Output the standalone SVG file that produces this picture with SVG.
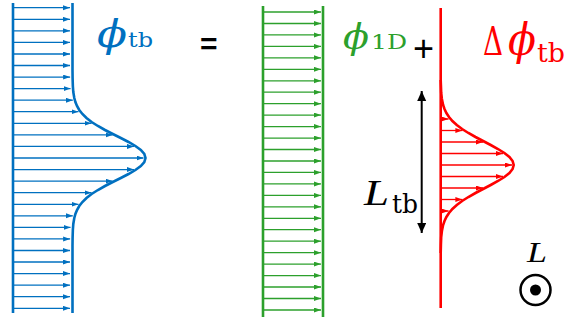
<svg xmlns="http://www.w3.org/2000/svg" width="569" height="320" viewBox="0 0 569 320">
<style>
.bl{stroke:#0070C0;fill:none}
.gr{stroke:#2CA02C;fill:none}
.rd{stroke:#FF0000;fill:none}
.wall{stroke-width:2.6}
.ar{stroke-width:1.3}
.phi{font-family:"DejaVu Serif",serif;font-style:italic}
.it{font-family:"Liberation Serif",serif;font-style:italic}
.up{font-family:"DejaVu Serif",serif}
.sans{font-family:"Liberation Sans",sans-serif}
</style>
<defs>
<marker id="mb" markerUnits="userSpaceOnUse" markerWidth="8" markerHeight="6" refX="7" refY="2.5" orient="auto"><path d="M0,0 L7,2.5 L0,5 z" fill="#0070C0"/></marker>
<marker id="mg" markerUnits="userSpaceOnUse" markerWidth="8" markerHeight="6" refX="7" refY="2.5" orient="auto"><path d="M0,0 L7,2.5 L0,5 z" fill="#2CA02C"/></marker>
<marker id="mr" markerUnits="userSpaceOnUse" markerWidth="8" markerHeight="6" refX="7" refY="2.5" orient="auto"><path d="M0,0 L7,2.5 L0,5 z" fill="#FF0000"/></marker>
<marker id="mk" markerUnits="userSpaceOnUse" markerWidth="12" markerHeight="10" refX="10" refY="4.5" orient="auto-start-reverse"><path d="M0,0 L10,4.5 L0,9 z" fill="#000"/></marker>
</defs>

<g id="blue-profile">
<line class="bl wall" x1="13" y1="3" x2="13" y2="313"/>
<path class="bl wall" d="M72.5,3 L72.5,70 L72.6,78 L72.85,86 L73.3,92 L74.3,98 L75.4,102 L77,106 L79.25,110 L82.4,114 L86.5,118 L91.6,122 L97.9,126 L105,130 L112.8,134 L120.8,138 L128.5,142 L135.4,146 L140.8,150 L144.3,154 L145.5,158 L144.3,162 L140.8,166 L135.4,170 L128.5,174 L120.8,178 L112.8,182 L105,186 L97.9,190 L91.6,194 L86.5,198 L82.4,202 L79.25,206 L77,210 L75.4,214 L74.3,218 L73.3,224 L72.85,230 L72.6,238 L72.5,246 L72.5,313"/>
<g class="bl ar" marker-end="url(#mb)">
<line x1="14" y1="7.7" x2="70" y2="7.7"/>
<line x1="14" y1="19.3" x2="70" y2="19.3"/>
<line x1="14" y1="30.8" x2="70" y2="30.8"/>
<line x1="14" y1="42.4" x2="70" y2="42.4"/>
<line x1="14" y1="54" x2="70" y2="54"/>
<line x1="14" y1="65.5" x2="70" y2="65.5"/>
<line x1="14" y1="77.1" x2="70.1" y2="77.1"/>
<line x1="14" y1="88.6" x2="70.5" y2="88.6"/>
<line x1="14" y1="100.2" x2="72.8" y2="100.2"/>
<line x1="14" y1="111.7" x2="78.5" y2="111.7"/>
<line x1="14" y1="123.3" x2="91.5" y2="123.3"/>
<line x1="14" y1="134.9" x2="112.5" y2="134.9"/>
<line x1="14" y1="146.4" x2="134" y2="146.4"/>
<line x1="14" y1="158" x2="143.5" y2="158"/>
<line x1="14" y1="169.6" x2="134" y2="169.6"/>
<line x1="14" y1="181.1" x2="112.5" y2="181.1"/>
<line x1="14" y1="192.7" x2="91.5" y2="192.7"/>
<line x1="14" y1="204.3" x2="78.5" y2="204.3"/>
<line x1="14" y1="215.8" x2="72.8" y2="215.8"/>
<line x1="14" y1="227.4" x2="70.5" y2="227.4"/>
<line x1="14" y1="238.9" x2="70.1" y2="238.9"/>
<line x1="14" y1="250.5" x2="70" y2="250.5"/>
<line x1="14" y1="262" x2="70" y2="262"/>
<line x1="14" y1="273.6" x2="70" y2="273.6"/>
<line x1="14" y1="285.2" x2="70" y2="285.2"/>
<line x1="14" y1="296.7" x2="70" y2="296.7"/>
<line x1="14" y1="308.3" x2="70" y2="308.3"/>
</g>
<text class="phi" x="97" y="47" font-size="38" fill="#0070C0" textLength="30" lengthAdjust="spacingAndGlyphs">ϕ</text>
<text class="up" x="128" y="47" font-size="20" fill="#0070C0" textLength="25" lengthAdjust="spacingAndGlyphs">tb</text>
</g>

<g id="equals">
<text class="sans" x="200" y="54" font-size="30" font-weight="bold" fill="#000">=</text>
</g>

<g id="green-profile">
<line class="gr wall" x1="263" y1="6" x2="263" y2="317"/>
<line class="gr wall" x1="323" y1="6" x2="323" y2="317"/>
<g class="gr ar" marker-end="url(#mg)">
<line x1="264" y1="12" x2="321" y2="12"/>
<line x1="264" y1="23.5" x2="321" y2="23.5"/>
<line x1="264" y1="34.9" x2="321" y2="34.9"/>
<line x1="264" y1="46.4" x2="321" y2="46.4"/>
<line x1="264" y1="57.8" x2="321" y2="57.8"/>
<line x1="264" y1="69.3" x2="321" y2="69.3"/>
<line x1="264" y1="80.8" x2="321" y2="80.8"/>
<line x1="264" y1="92.2" x2="321" y2="92.2"/>
<line x1="264" y1="103.7" x2="321" y2="103.7"/>
<line x1="264" y1="115.1" x2="321" y2="115.1"/>
<line x1="264" y1="126.6" x2="321" y2="126.6"/>
<line x1="264" y1="138.1" x2="321" y2="138.1"/>
<line x1="264" y1="149.5" x2="321" y2="149.5"/>
<line x1="264" y1="161" x2="321" y2="161"/>
<line x1="264" y1="172.4" x2="321" y2="172.4"/>
<line x1="264" y1="183.9" x2="321" y2="183.9"/>
<line x1="264" y1="195.4" x2="321" y2="195.4"/>
<line x1="264" y1="206.8" x2="321" y2="206.8"/>
<line x1="264" y1="218.3" x2="321" y2="218.3"/>
<line x1="264" y1="229.7" x2="321" y2="229.7"/>
<line x1="264" y1="241.2" x2="321" y2="241.2"/>
<line x1="264" y1="252.7" x2="321" y2="252.7"/>
<line x1="264" y1="264.1" x2="321" y2="264.1"/>
<line x1="264" y1="275.6" x2="321" y2="275.6"/>
<line x1="264" y1="287" x2="321" y2="287"/>
<line x1="264" y1="298.5" x2="321" y2="298.5"/>
<line x1="264" y1="310" x2="321" y2="310"/>
</g>
<text class="phi" x="343" y="49" font-size="36" fill="#2CA02C" textLength="26" lengthAdjust="spacingAndGlyphs">ϕ</text>
<text class="up" x="371" y="49" font-size="20" fill="#2CA02C" textLength="36" lengthAdjust="spacingAndGlyphs">1D</text>
</g>

<g id="plus">
<text class="sans" x="413" y="61" font-size="36" fill="#000">+</text>
</g>

<g id="red-profile">
<line class="rd wall" x1="440.7" y1="8" x2="440.7" y2="308"/>
<path class="rd wall" d="M440.7,80 L440.9,85 L441.2,93 L441.9,99 L443.1,105 L444.5,109 L446.4,113 L449,117 L452.4,121 L456.8,125 L462.1,129 L468.4,133 L475.5,137 L483.1,141 L490.7,145 L498,149 L504.4,153 L509.4,157 L512.6,161 L513.7,165 L512.6,169 L509.4,173 L504.4,177 L498,181 L490.7,185 L483.1,189 L475.5,193 L468.4,197 L462.1,201 L456.8,205 L452.4,209 L449,213 L446.4,217 L444.5,221 L443.1,225 L441.9,231 L441.2,237 L440.9,245 L440.7,253"/>
<g class="rd ar" marker-end="url(#mr)">
<line x1="442" y1="119" x2="448.6" y2="119"/>
<line x1="442" y1="130.5" x2="462.4" y2="130.5"/>
<line x1="442" y1="142" x2="483" y2="142"/>
<line x1="442" y1="153.5" x2="503" y2="153.5"/>
<line x1="442" y1="165" x2="512" y2="165"/>
<line x1="442" y1="176.5" x2="503" y2="176.5"/>
<line x1="442" y1="188" x2="483" y2="188"/>
<line x1="442" y1="199.5" x2="462.4" y2="199.5"/>
<line x1="442" y1="211" x2="448.6" y2="211"/>
</g>
<text class="up" x="483" y="55" font-size="40" fill="#FF0000" textLength="20" lengthAdjust="spacingAndGlyphs">Δ</text>
<text class="phi" x="508" y="55" font-size="44" fill="#FF0000" textLength="28" lengthAdjust="spacingAndGlyphs">ϕ</text>
<text class="up" x="537" y="62" font-size="26" fill="#FF0000" textLength="28" lengthAdjust="spacingAndGlyphs">tb</text>
</g>

<g id="connectors">
<line x1="421.7" y1="91" x2="421.7" y2="233" stroke="#000" stroke-width="2" marker-start="url(#mk)" marker-end="url(#mk)"/>
</g>

<g id="ltb-label">
<text class="it" x="364" y="205" font-size="35" fill="#000" textLength="25" lengthAdjust="spacingAndGlyphs">L</text>
<text class="up" x="392" y="213" font-size="26" fill="#000" textLength="26" lengthAdjust="spacingAndGlyphs">tb</text>
</g>

<g id="l-axis">
<text class="it" x="527" y="262" font-size="30" fill="#000" textLength="20" lengthAdjust="spacingAndGlyphs">L</text>
<circle cx="535.5" cy="290" r="15" fill="none" stroke="#000" stroke-width="2.5"/>
<circle cx="535.5" cy="290" r="5.5" fill="#000"/>
</g>
</svg>
